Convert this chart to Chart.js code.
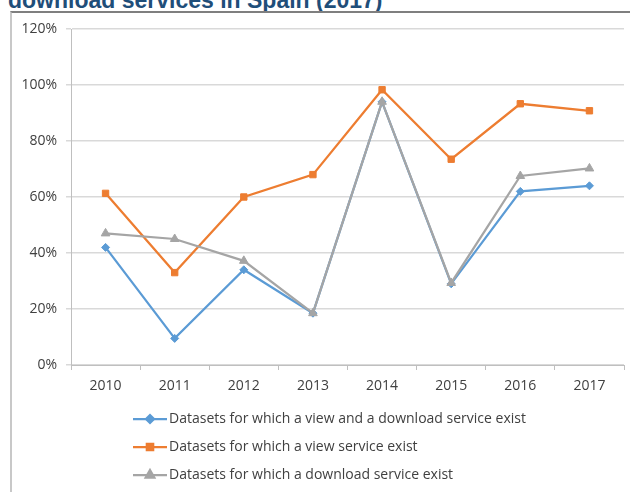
<!DOCTYPE html>
<html>
<head>
<meta charset="utf-8">
<script src="https://cdn.jsdelivr.net/npm/chart.js@4.4.0/dist/chart.umd.min.js"></script>
<style>
    body { margin: 0; background: #fff; width: 630px; height: 492px; overflow: hidden; position: relative; }
    #title { position: absolute; left: 8px; top: -12px; font: bold 23px "Liberation Sans", sans-serif; color: #1F4E79; white-space: nowrap; line-height: 24px; }
    #frame { position: absolute; left: 10px; top: 11px; width: 640px; height: 500px; border-top: 2px solid #7f7f7f; border-left: 2px solid #c8c8c8; pointer-events: none; }
    canvas { position: absolute; left: 0; top: 0; }
</style>
</head>
<body>
<div id="title">download services in Spain (2017)</div>
<canvas id="chart" width="630" height="492"></canvas>
<div id="frame"></div>
<script>
const years = ['2010', '2011', '2012', '2013', '2014', '2015', '2016', '2017'];
const viewAndDownload = [42, 9.5, 34, 18.5, 94, 29, 62, 64];
const viewOnly = [61.3, 33, 60, 68, 98.3, 73.5, 93.3, 90.8];
const downloadOnly = [47, 45, 37.2, 18.5, 94, 29.3, 67.5, 70.2];
const seriesNames = [
    'Datasets for which a view and a download service exist',
    'Datasets for which a view service exist',
    'Datasets for which a download service exist'
];

const colors = ['#5B9BD5', '#ED7D31', '#A5A5A5'];
const pointStyles = ['rectRot', 'rect', 'triangle'];
const pointSizes = [4, 4.5, 5];
const drawOrder = [3, 2, 1]; // grey ends up on top, like the original

// legend drawn as a vertical list under the axis
const legendList = {
    id: 'legendList',
    afterDraw(chart) {
        const ctx = chart.ctx;
        const x0 = 133;
        let y = chart.chartArea.bottom + 54;
        chart.data.datasets.forEach(ds => {
            ctx.save();
            ctx.strokeStyle = ds.borderColor;
            ctx.lineWidth = 2.25;
            ctx.beginPath();
            ctx.moveTo(x0, y);
            ctx.lineTo(x0 + 34, y);
            ctx.stroke();
            Chart.helpers.drawPoint(ctx, {
                pointStyle: ds.pointStyle,
                radius: ds.pointRadius,
                rotation: 0,
                borderWidth: 1
            }, x0 + 17, y);
            ctx.fillStyle = ds.borderColor;
            ctx.fill();
            ctx.fillStyle = '#404040';
            ctx.font = '14px "Open Sans", sans-serif';
            ctx.textBaseline = 'middle';
            ctx.fillText(ds.label, x0 + 36, y);
            ctx.restore();
            y += 28;
        });
    }
};

new Chart(document.getElementById('chart'), {
    type: 'line',
    data: {
        labels: years,
        datasets: [viewAndDownload, viewOnly, downloadOnly].map((vals, i) => ({
            label: seriesNames[i],
            data: vals,
            order: drawOrder[i],
            borderColor: colors[i],
            backgroundColor: colors[i],
            borderWidth: 2.25,
            pointStyle: pointStyles[i],
            pointRadius: pointSizes[i],
            pointBorderWidth: 1,
            tension: 0
        }))
    },
    options: {
        responsive: false,
        animation: false,
        layout: { padding: { top: 29, right: 0, left: 0, bottom: 0 } },
        plugins: {
            legend: { display: false },
            tooltip: { enabled: false }
        },
        scales: {
            x: {
                offset: true,
                grid: { offset: true, drawOnChartArea: false, drawTicks: true, tickLength: 5, color: '#bfbfbf' },
                border: { color: '#bfbfbf', width: 1 },
                ticks: { color: '#404040', font: { size: 14, family: 'Open Sans' }, padding: 8 },
                afterFit(scale) { scale.height = 127; }
            },
            y: {
                min: 0,
                max: 120,
                ticks: {
                    stepSize: 20,
                    color: '#404040',
                    font: { size: 14, family: 'Open Sans' },
                    padding: 9,
                    callback: v => v + '%'
                },
                grid: { color: '#d9d9d9', lineWidth: 1.5, tickLength: 5 },
                border: { color: '#bfbfbf', width: 1 },
                afterFit(scale) { scale.width = 71; }
            }
        }
    },
    plugins: [legendList]
});
</script>
</body>
</html>
